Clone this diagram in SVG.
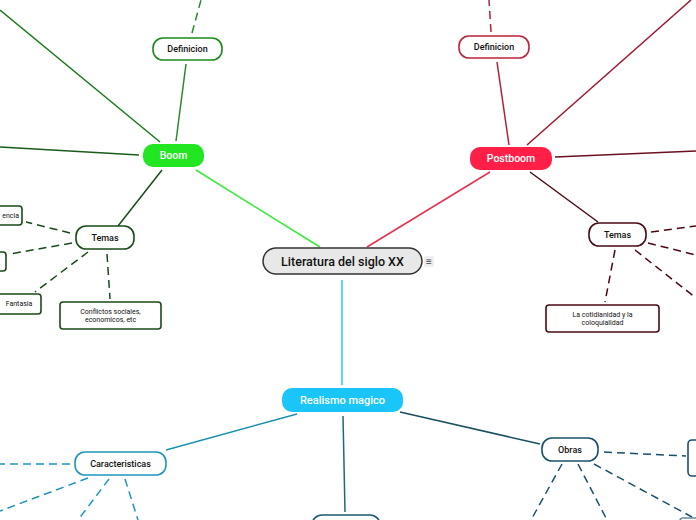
<svg xmlns="http://www.w3.org/2000/svg" width="696" height="520" viewBox="0 0 696 520">
<style>
text{font-family:Roboto,"Liberation Sans",sans-serif;text-anchor:middle;dominant-baseline:central;fill:#111}
.t9{font-size:9px;font-weight:500}
.t7{font-size:7px}
.w{fill:#fff;font-size:10.5px;font-weight:500}
.box{fill:#fff;stroke-width:1.6}
.l{fill:none;stroke-width:1.5}
.d{fill:none;stroke-width:1.5;stroke-dasharray:8 5}
</style>
<rect width="696" height="520" fill="#fff"/>
<g id="connectors">
<path class="l" d="M196,170 L320,247" stroke="#35ee35"/>
<path class="l" d="M367,247 L490,172" stroke="#e8304f"/>
<path class="l" d="M342,280 L342,385" stroke="#22ccee"/>
<path class="l" d="M186,64 L176,141" stroke="#2a8a2a"/>
<path class="d" d="M192,33 L201,0" stroke="#2a8a2a"/>
<path class="l" d="M160,142 L0,10" stroke="#1a7a1a"/>
<path class="l" d="M139,155 L0,147" stroke="#1a5a1a"/>
<path class="l" d="M162,170 L118,226" stroke="#1a4a1a"/>
<path class="d" d="M70,233 L26,222" stroke="#1a4a1a"/>
<path class="d" d="M72,243 L10,254" stroke="#1a4a1a"/>
<path class="d" d="M88,252 L35,292" stroke="#1a4a1a"/>
<path class="d" d="M107,254 L110,299" stroke="#1a4a1a"/>
<path class="l" d="M497,62 L509,145" stroke="#b0203a"/>
<path class="d" d="M491,32 L489,0" stroke="#b0203a"/>
<path class="l" d="M527,145 L691,0" stroke="#a01830"/>
<path class="l" d="M555,157 L696,151" stroke="#6a1020"/>
<path class="l" d="M530,172 L598,222" stroke="#4a0a14"/>
<path class="d" d="M651,232 L696,226" stroke="#4a0a14"/>
<path class="d" d="M648,243 L696,255" stroke="#4a0a14"/>
<path class="d" d="M635,250 L696,298" stroke="#4a0a14"/>
<path class="d" d="M615,250 L605,302" stroke="#4a0a14"/>
<path class="l" d="M297,414 L166,450" stroke="#1a90b0"/>
<path class="d" d="M70,464 L0,464" stroke="#1f95bb"/>
<path class="d" d="M88,478 L0,511" stroke="#1f95bb"/>
<path class="d" d="M109,479 L78,520" stroke="#1f95bb"/>
<path class="d" d="M125,479 L138,520" stroke="#1f95bb"/>
<path class="l" d="M343,416 L345,512" stroke="#1a6a80"/>
<path class="l" d="M400,412 L540,444" stroke="#1a5060"/>
<path class="d" d="M604,452 L686,456" stroke="#1a5068"/>
<path class="d" d="M594,464 L692,517" stroke="#1a5068"/>
<path class="d" d="M562,464 L531,520" stroke="#1a5068"/>
<path class="d" d="M578,464 L607,520" stroke="#1a5068"/>
</g>
<g id="central">
<rect x="263" y="248" width="159" height="26" rx="13" fill="#e8e8e8" stroke="#333" stroke-width="1.5"/>
<text x="342.5" y="261.5" style="font-size:12.5px;font-weight:500">Literatura del siglo XX</text>
<rect x="424" y="256" width="10" height="11" rx="2" fill="#eee"/>
<text x="429" y="261.5" style="font-size:10px;fill:#444">≡</text>
</g>
<g id="boom">
<rect x="143" y="144" width="61" height="23" rx="10" fill="#22e622"/>
<text class="w" x="173.5" y="155.5">Boom</text>
</g>
<g id="boom-definicion">
<rect class="box" x="153" y="38" width="69" height="22" rx="10" stroke="#1a8a1a"/>
<text class="t9" x="187.5" y="49">Definicion</text>
</g>
<g id="boom-temas">
<rect class="box" x="76" y="226" width="58" height="23" rx="10" stroke="#1a4a1a"/>
<text class="t9" x="105" y="237.5">Temas</text>
</g>
<g id="boom-t1">
<rect class="box" x="-30" y="206" width="52" height="19" rx="3" stroke="#1a4a1a"/>
<text class="t7" x="19" y="215.5" style="text-anchor:end">encia</text>
</g>
<g id="boom-t2">
<rect class="box" x="-40" y="252" width="46" height="19" rx="3" stroke="#1a4a1a"/>
</g>
<g id="boom-fantasia">
<rect class="box" x="-4" y="294" width="45" height="20" rx="3" stroke="#1a4a1a"/>
<text class="t7" x="19" y="304">Fantasia</text>
</g>
<g id="boom-conflictos">
<rect class="box" x="60" y="302" width="101" height="27" rx="3" stroke="#1a4a1a"/>
<text class="t7" x="110.5" y="311.5">Conflictos sociales,</text>
<text class="t7" x="110.5" y="320">economicos, etc</text>
</g>
<g id="postboom">
<rect x="470" y="147" width="82" height="23" rx="10" fill="#ff1f47"/>
<text class="w" x="511" y="158.5">Postboom</text>
</g>
<g id="postboom-definicion">
<rect class="box" x="459" y="36" width="70" height="22" rx="10" stroke="#c0203a"/>
<text class="t9" x="494" y="47">Definicion</text>
</g>
<g id="postboom-temas">
<rect class="box" x="589" y="223" width="57" height="23" rx="10" stroke="#4a0a14"/>
<text class="t9" x="617.5" y="234.5">Temas</text>
</g>
<g id="postboom-cotidianidad">
<rect class="box" x="546" y="305" width="113" height="27" rx="3" stroke="#4a0a14"/>
<text class="t7" x="602.5" y="314.5">La cotidianidad y la</text>
<text class="t7" x="602.5" y="323">coloquialidad</text>
</g>
<g id="realismo">
<rect x="282" y="388" width="121" height="24" rx="10" fill="#19c6f7"/>
<text class="w" x="342.5" y="400" style="font-size:11px">Realismo magico</text>
</g>
<g id="realismo-caracteristicas">
<rect class="box" x="75" y="452" width="91" height="23" rx="10" stroke="#1f95bb"/>
<text class="t9" x="120.5" y="463.5">Caracteristicas</text>
</g>
<g id="realismo-bottom">
<rect class="box" x="312" y="515" width="68" height="22" rx="10" stroke="#1a5a70"/>
</g>
<g id="realismo-obras">
<rect class="box" x="542" y="438" width="56" height="23" rx="10" stroke="#1a5068"/>
<text class="t9" x="570" y="449.5">Obras</text>
</g>
<g id="obras-right">
<rect class="box" x="688" y="440" width="30" height="36" rx="4" stroke="#1a5068"/>
</g>
<g id="obras-bottomright">
<rect class="box" x="680" y="518" width="40" height="20" rx="3" stroke="#6a8a94"/>
</g>
</svg>
